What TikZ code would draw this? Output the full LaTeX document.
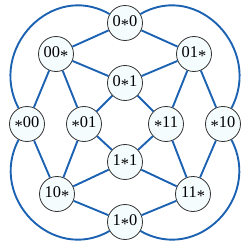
\documentclass[tikz,border=0pt]{standalone}
\usepackage{fontspec}
\setmainfont{Liberation Serif}
\newcommand{\st}{\raisebox{-0.2em}{*}}
\begin{document}
\begin{tikzpicture}[x=1pt,y=1pt,
  vtx/.style={circle,draw=black!80,line width=0.8pt,fill=cyan!4!white,minimum size=35pt,inner sep=0pt,font=\fontsize{16.4}{18}\selectfont},
  edge/.style={draw=edgeblue,line width=1.9pt},
  ]
\definecolor{edgeblue}{RGB}{28,98,178}
\useasboundingbox (0,0) rectangle (250,250);
\node[vtx] (a00) at (125,227) {0\st0};
\node[vtx] (a0s) at (56,196) {00\st};
\node[vtx] (a1s) at (194,196) {01\st};
\node[vtx] (a01) at (125,167) {0\st1};
\node[vtx] (s00) at (27,126) {\st00};
\node[vtx] (s01) at (84,126) {\st01};
\node[vtx] (s11) at (166,126) {\st11};
\node[vtx] (s10) at (223,126) {\st10};
\node[vtx] (b11) at (125,88) {1\st1};
\node[vtx] (b0s) at (57,56) {10\st};
\node[vtx] (b1s) at (193,56) {11\st};
\node[vtx] (b10) at (125,28) {1\st0};
\path[edge]
  (a00) -- (a0s) (a00) -- (a1s)
  (a0s) -- (a01) (a0s) -- (s00) (a0s) -- (s01)
  (a1s) -- (a01) (a1s) -- (s11) (a1s) -- (s10)
  (a01) -- (s01) (a01) -- (s11)
  (s01) -- (b11) (s11) -- (b11)
  (b0s) -- (s00) (b0s) -- (s01) (b0s) -- (b11) (b0s) -- (b10)
  (b1s) -- (s11) (b1s) -- (s10) (b1s) -- (b11) (b1s) -- (b10)
  (a00) to[out=150,in=118,looseness=1.3] (s00)
  (a00) to[out=30,in=62,looseness=1.3] (s10)
  (s00) to[out=-118,in=210,looseness=1.3] (b10)
  (s10) to[out=-62,in=-30,looseness=1.3] (b10);
\end{tikzpicture}
\end{document}
